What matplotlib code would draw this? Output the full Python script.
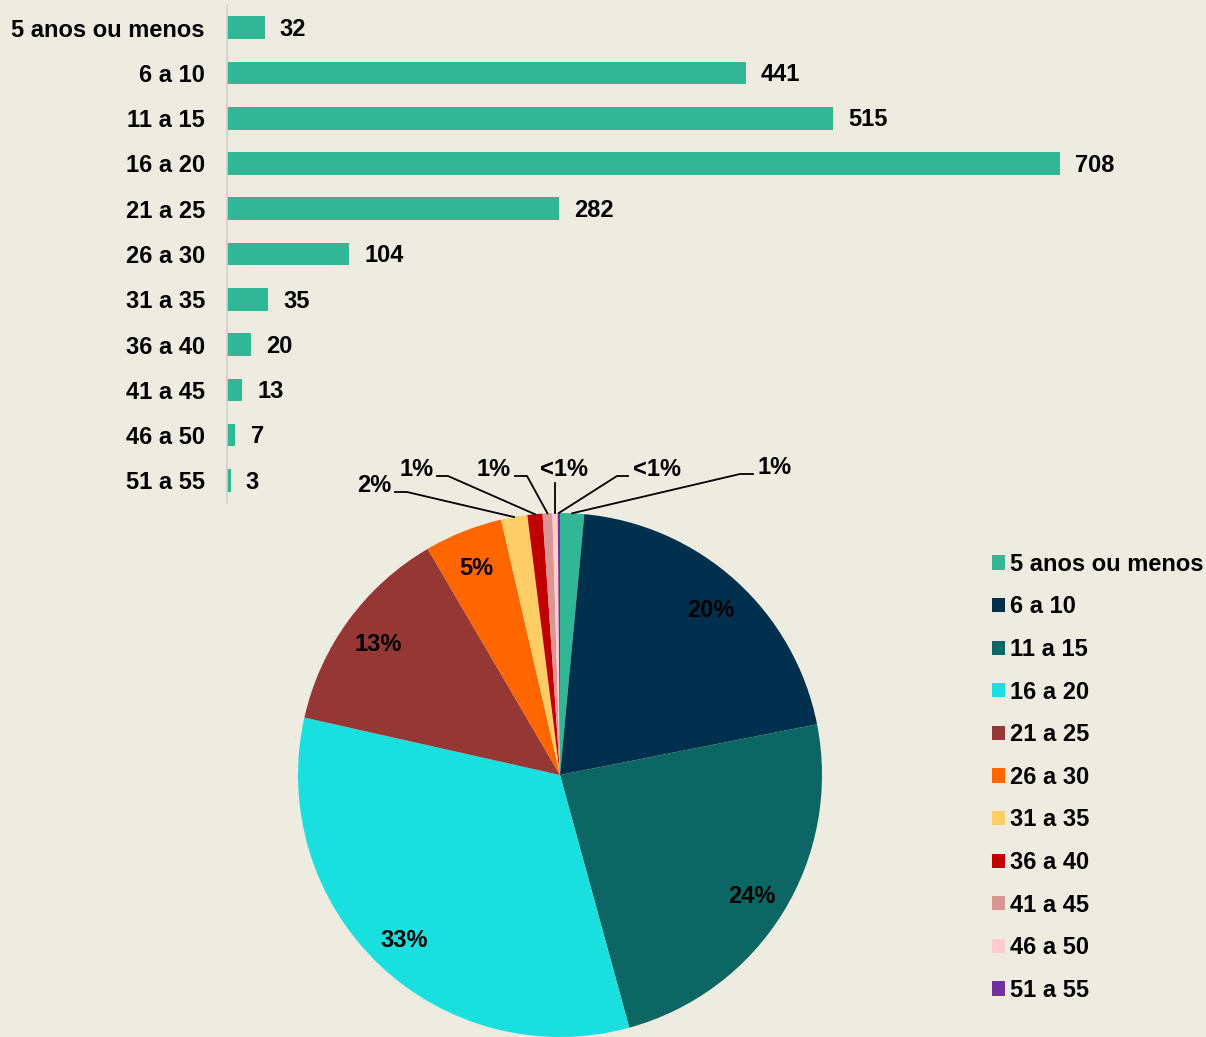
import matplotlib
matplotlib.use("Agg")
import matplotlib.pyplot as plt
import numpy as np
from matplotlib.patches import Patch

categories = ["5 anos ou menos", "6 a 10", "11 a 15", "16 a 20", "21 a 25", "26 a 30",
              "31 a 35", "36 a 40", "41 a 45", "46 a 50", "51 a 55"]
counts = [32, 441, 515, 708, 282, 104, 35, 20, 13, 7, 3]
pie_colors = ["#31B795", "#00304D", "#0B6664", "#19E0DE", "#953735", "#FF6600",
              "#FFCC66", "#C00000", "#DA9694", "#FFCCCC", "#7030A0"]
bar_color = "#31B795"
bg = "#EEEBE0"

plt.rcParams.update({
    "font.family": ["Liberation Sans", "DejaVu Sans"],
    "font.weight": "bold",
    "font.size": 17,
})

W, H = 1206, 1037
fig = plt.figure(figsize=(W / 100, H / 100), dpi=100, facecolor=bg)

# ---- bar chart ----
ax = fig.add_axes([227 / W, 1 - 503 / H, 941 / W, 498 / H], facecolor=bg)
y = np.arange(len(categories))
ax.barh(y, counts, height=0.5, color=bar_color)
ax.set_ylim(len(categories) - 0.5, -0.5)
ax.set_xlim(0, 800)
ax.set_yticks(y)
ax.set_yticklabels(categories, fontweight="bold")
ax.tick_params(axis="y", length=0, pad=16)
ax.set_xticks([])
for s in ["top", "right", "bottom"]:
    ax.spines[s].set_visible(False)
ax.spines["left"].set_color("#D0D0D0")
ax.spines["left"].set_linewidth(1.2)
for yi, v in zip(y, counts):
    ax.annotate(str(v), (v, yi), xytext=(11, 0.5), textcoords="offset points",
                ha="left", va="center_baseline", fontweight="bold")

# ---- pie chart ----
R = 262
cx, cy = 560, 775
pax = fig.add_axes([(cx - R) / W, (H - cy - R) / H, 2 * R / W, 2 * R / H])
pax.set_facecolor("none")
total = sum(counts)
pcts = [c / total * 100 for c in counts]


def fmt(p):
    return "<1%" if p < 0.5 else f"{round(p):.0f}%"


wedges, _ = pax.pie(counts, colors=pie_colors, startangle=90, counterclock=False,
                    radius=1, wedgeprops=dict(linewidth=0))
pax.set_xlim(-1, 1)
pax.set_ylim(-1, 1)
pax.set_aspect("equal")
pax.axis("off")


def to_data(px, py):
    return (px - cx) / R, (cy - py) / R


# inside labels
for w, p in zip(wedges, pcts):
    if p >= 3:
        ang = np.deg2rad((w.theta1 + w.theta2) / 2)
        d = 0.86
        pax.text(d * np.cos(ang), d * np.sin(ang) - 0.01, fmt(p), ha="center",
                 va="center", fontweight="bold")

# outside labels with leader lines: (text x, text y, elbow start x, elbow end x, elbow y) in px
outside = {
    6: (374, 486, 395, 407, 492),
    7: (417, 470, 437, 448, 476),
    8: (494, 470, 515, 527, 476),
    9: (564, 470, 555, 555, 483),
    10: (657, 470, 617, 628, 476),
    0: (775, 467, 740, 753, 474),
}
for i, (tx, ty, ex0, ex1, ey) in outside.items():
    w = wedges[i]
    ang = np.deg2rad((w.theta1 + w.theta2) / 2)
    wx, wy = np.cos(ang), np.sin(ang)
    x0, y0 = to_data(ex0, ey)
    x1, y1 = to_data(ex1, ey)
    if i in (6, 7, 8):
        xs, ys = [x0, x1, wx], [y0, y1, wy]
    elif i == 9:
        xs, ys = [x0, wx], [y0, wy]
    else:
        xs, ys = [x1, x0, wx], [y1, y0, wy]
    pax.plot(xs, ys, color="black", lw=1.3, clip_on=False)
    txd, tyd = to_data(tx, ty)
    pax.text(txd, tyd, fmt(pcts[i]), ha="center", va="center", fontweight="bold",
             clip_on=False)

handles = [Patch(facecolor=c, edgecolor="none") for c in pie_colors]
fig.legend(handles, categories, loc="upper left", bbox_to_anchor=(980 / W, 1 - 541 / H),
           frameon=False, handlelength=0.55, handleheight=0.55, handletextpad=0.22,
           labelspacing=0.83, borderpad=0, prop={"weight": "bold", "size": 17})

fig.savefig("out.png", dpi=100, facecolor=bg)
